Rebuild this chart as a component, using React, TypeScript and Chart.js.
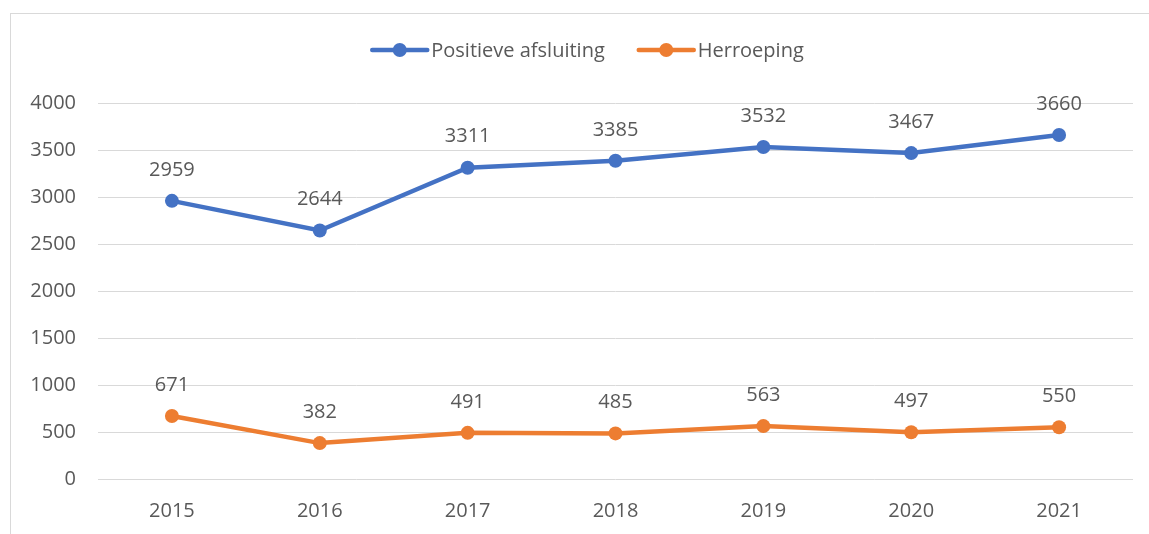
import React, { useEffect, useRef } from "react";
import { Chart, registerables } from "chart.js";

Chart.register(...registerables);

const categories = ["2015", "2016", "2017", "2018", "2019", "2020", "2021"];
const positieve = [2959, 2644, 3311, 3385, 3532, 3467, 3660];
const herroeping = [671, 382, 491, 485, 563, 497, 550];
const seriesNames = ["Positieve afsluiting", "Herroeping"];
const seriesColors = ["#4472C4", "#ED7D31"];

const FONT = "'Open Sans', 'Noto Sans', sans-serif";
const TEXT = "#595959";
const FS = 20;

export default function App() {
  const ref = useRef<HTMLCanvasElement>(null);

  useEffect(() => {
    document.body.style.margin = "0";
    const canvas = ref.current!;
    const valueLabels = {
      id: "valueLabels",
      afterDatasetsDraw(chart: any) {
        const ctx = chart.ctx;
        ctx.save();
        ctx.font = `${FS}px ${FONT}`;
        ctx.fillStyle = TEXT;
        ctx.textAlign = "center";
        ctx.textBaseline = "middle";
        chart.data.datasets.forEach((ds: any, i: number) => {
          const meta = chart.getDatasetMeta(i);
          meta.data.forEach((pt: any, j: number) => {
            ctx.fillText(String(ds.data[j]), pt.x, pt.y - 31);
          });
        });
        ctx.restore();
      },
    };
    const customLegend = {
      id: "customLegend",
      afterDraw(chart: any) {
        const ctx = chart.ctx;
        ctx.save();
        ctx.font = `${FS}px ${FONT}`;
        ctx.textBaseline = "middle";
        ctx.textAlign = "left";
        const y = 50;
        const widths = seriesNames.map((n) => ctx.measureText(n).width);
        const total = widths[0] + widths[1] + 2 * 60 + 34;
        let x = 589 - total / 2;
        seriesNames.forEach((name, i) => {
          ctx.strokeStyle = seriesColors[i];
          ctx.lineWidth = 4.5;
          ctx.lineCap = "round";
          ctx.beginPath();
          ctx.moveTo(x, y);
          ctx.lineTo(x + 55, y);
          ctx.stroke();
          ctx.fillStyle = seriesColors[i];
          ctx.beginPath();
          ctx.arc(x + 27.5, y, 7, 0, Math.PI * 2);
          ctx.fill();
          ctx.fillStyle = TEXT;
          ctx.fillText(name, x + 59, y + 1);
          x += 59 + widths[i] + 34;
        });
        ctx.restore();
      },
    };
    const chart = new Chart(canvas, {
      type: "line",
      data: {
        labels: categories,
        datasets: [
          {
            label: seriesNames[0],
            data: positieve,
            borderColor: seriesColors[0],
            backgroundColor: seriesColors[0],
            borderWidth: 4.5,
            pointRadius: 7,
            pointBorderWidth: 0,
            tension: 0,
          },
          {
            label: seriesNames[1],
            data: herroeping,
            borderColor: seriesColors[1],
            backgroundColor: seriesColors[1],
            borderWidth: 4.5,
            pointRadius: 7,
            pointBorderWidth: 0,
            tension: 0,
          },
        ],
      },
      options: {
        animation: false,
        responsive: false,
        layout: { padding: { top: 103, right: 16, left: 0, bottom: 0 } },
        plugins: { legend: { display: false }, tooltip: { enabled: false } },
        scales: {
          x: {
            offset: true,
            grid: { display: false },
            border: { display: false },
            ticks: { color: TEXT, font: { family: FONT, size: FS }, padding: 12 },
            afterFit(scale: any) {
              scale.height = 534 - 479;
            },
          },
          y: {
            min: 0,
            max: 4000,
            ticks: {
              stepSize: 500,
              color: TEXT,
              font: { family: FONT, size: FS },
              padding: 22,
              callback: (v: any) => String(v),
            },
            grid: { color: "#D9D9D9", lineWidth: 1, drawTicks: false },
            border: { display: false },
            afterFit(scale: any) {
              scale.width = 98;
            },
          },
        },
      },
      plugins: [valueLabels, customLegend],
    });
    return () => chart.destroy();
  }, []);

  return (
    <div style={{ position: "relative", width: 1149, height: 534, overflow: "hidden", background: "#fff" }}>
      <div
        style={{
          position: "absolute",
          left: 10,
          top: 13,
          width: 1300,
          height: 700,
          borderTop: "1px solid #D9D9D9",
          borderLeft: "1px solid #D9D9D9",
        }}
      />
      <canvas ref={ref} width={1149} height={534} style={{ position: "absolute", left: 0, top: 0 }} />
    </div>
  );
}
